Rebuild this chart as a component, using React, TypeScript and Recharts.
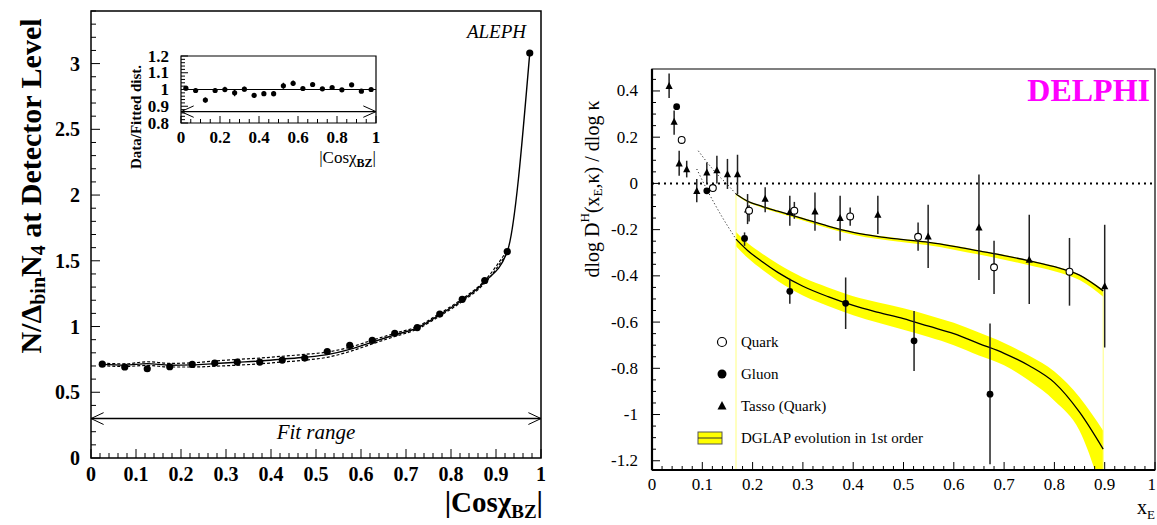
import React from 'react';
import {
  ComposedChart, Scatter, Line, Area, XAxis, YAxis, ErrorBar,
  ReferenceLine, ReferenceArea, Legend,
} from 'recharts';

const FONT = '"Liberation Serif", "DejaVu Serif", serif';

// ---------------- ALEPH (left panel) ----------------
const cosBins = [0.025, 0.075, 0.125, 0.175, 0.225, 0.275, 0.325, 0.375, 0.425, 0.475,
  0.525, 0.575, 0.625, 0.675, 0.725, 0.775, 0.825, 0.875, 0.925, 0.975];
const alephValues = [0.714, 0.692, 0.679, 0.694, 0.712, 0.722, 0.73, 0.73, 0.745, 0.76,
  0.81, 0.856, 0.894, 0.949, 0.992, 1.095, 1.207, 1.35, 1.57, 3.08];
const alephFit = [0.712, 0.706, 0.718, 0.706, 0.708, 0.718, 0.728, 0.738, 0.752, 0.766,
  0.786, 0.826, 0.882, 0.936, 0.99, 1.09, 1.2, 1.34, 1.57, 3.08];
const alephFitUp = [0.722, 0.716, 0.732, 0.72, 0.724, 0.738, 0.75, 0.76, 0.774, 0.788,
  0.806, 0.842, 0.896, 0.948, 1.0, 1.1, 1.21, 1.35, 1.58];
const alephFitDown = [0.702, 0.696, 0.704, 0.692, 0.692, 0.698, 0.706, 0.716, 0.73, 0.744,
  0.766, 0.81, 0.868, 0.924, 0.98, 1.08, 1.19, 1.33, 1.56];
const ratioValues = [1.008, 0.994, 0.937, 0.994, 1.0, 0.98, 1.002, 0.965, 0.975, 0.975,
  1.022, 1.037, 1.006, 1.03, 1.004, 1.012, 0.998, 1.028, 0.99, 1.0];
const ratioErrors = [0.012, 0.012, 0.015, 0.014, 0.016, 0.02, 0.014, 0.012, 0.014, 0.016,
  0.018, 0.016, 0.01, 0.01, 0.008, 0.008, 0.008, 0.008, 0.008, 0.006];
const fitRangeY = 0.3;
const ratioArrowY = 0.868;

const leftXMajor = [0, 0.1, 0.2, 0.3, 0.4, 0.5, 0.6, 0.7, 0.8, 0.9, 1];
const leftXLabels = ['0', '0.1', '0.2', '0.3', '0.4', '0.5', '0.6', '0.7', '0.8', '0.9', '1'];
const leftYMajor = [0, 0.5, 1, 1.5, 2, 2.5, 3];
const leftYLabels = ['0', '0.5', '1', '1.5', '2', '2.5', '3'];
const insetXMajor = [0, 0.2, 0.4, 0.6, 0.8, 1];
const insetXLabels = ['0', '0.2', '0.4', '0.6', '0.8', '1'];
const insetYMajor = [0.8, 0.9, 1, 1.1, 1.2];
const insetYLabels = ['0.8', '0.9', '1', '1.1', '1.2'];

// ---------------- DELPHI (right panel) ----------------
const quarkX = [0.059, 0.121, 0.193, 0.283, 0.394, 0.529, 0.68, 0.83];
const quarkY = [0.188, -0.02, -0.118, -0.118, -0.143, -0.231, -0.363, -0.382];
const quarkLo = [0.188, -0.02, -0.165, -0.153, -0.183, -0.291, -0.479, -0.529];
const quarkHi = [0.188, -0.02, -0.095, -0.08, -0.104, -0.169, -0.248, -0.236];

const gluonX = [0.049, 0.109, 0.184, 0.274, 0.385, 0.521, 0.672];
const gluonY = [0.332, -0.032, -0.238, -0.467, -0.519, -0.681, -0.912];
const gluonLo = [0.332, -0.032, -0.27, -0.521, -0.63, -0.812, -1.215];
const gluonHi = [0.332, -0.032, -0.212, -0.413, -0.407, -0.552, -0.606];

const tassoX = [0.034, 0.044, 0.054, 0.069, 0.089, 0.109, 0.129, 0.15, 0.17, 0.19,
  0.225, 0.274, 0.324, 0.374, 0.449, 0.549, 0.65, 0.75, 0.9];
const tassoY = [0.42, 0.265, 0.084, 0.059, -0.035, 0.045, 0.055, 0.038, 0.038, -0.115,
  -0.068, -0.125, -0.123, -0.151, -0.137, -0.231, -0.193, -0.332, -0.447];
const tassoLo = [0.37, 0.211, 0.033, 0.026, -0.082, -0.003, 0.0, -0.024, -0.046, -0.176,
  -0.125, -0.183, -0.205, -0.248, -0.219, -0.366, -0.418, -0.522, -0.71];
const tassoHi = [0.476, 0.315, 0.141, 0.098, 0.019, 0.09, 0.12, 0.106, 0.124, -0.046,
  -0.017, -0.053, -0.039, -0.053, -0.053, -0.092, 0.038, -0.136, -0.179];

const dglapX = [0.167, 0.19, 0.22, 0.25, 0.3, 0.35, 0.4, 0.45, 0.5, 0.55, 0.6, 0.65,
  0.7, 0.75, 0.8, 0.85, 0.897];
const quarkCurve = [-0.046, -0.077, -0.1, -0.12, -0.152, -0.185, -0.212, -0.23, -0.243,
  -0.255, -0.272, -0.292, -0.312, -0.335, -0.36, -0.397, -0.465];
const quarkBandHi = [-0.044, -0.074, -0.097, -0.117, -0.149, -0.182, -0.209, -0.227, -0.24,
  -0.252, -0.269, -0.289, -0.309, -0.332, -0.357, -0.394, -0.46];
const quarkBandLo = [-0.05, -0.082, -0.106, -0.127, -0.16, -0.194, -0.222, -0.241, -0.255,
  -0.268, -0.287, -0.308, -0.33, -0.354, -0.38, -0.418, -0.49];
const gluonCurve = [-0.241, -0.29, -0.34, -0.385, -0.445, -0.49, -0.528, -0.558, -0.585,
  -0.618, -0.65, -0.693, -0.735, -0.789, -0.862, -0.99, -1.15];
const gluonBandHi = [-0.21, -0.258, -0.305, -0.348, -0.407, -0.45, -0.488, -0.515, -0.54,
  -0.57, -0.603, -0.645, -0.69, -0.746, -0.814, -0.925, -1.07];
const gluonBandLo = [-0.272, -0.322, -0.375, -0.422, -0.485, -0.53, -0.57, -0.603, -0.633,
  -0.665, -0.7, -0.745, -0.787, -0.854, -0.94, -1.07, -1.35];
const quarkDotX = [0.092, 0.11, 0.129, 0.15, 0.167];
const quarkDotY = [0.141, 0.09, 0.041, -0.005, -0.046];
const gluonDotX = [0.089, 0.11, 0.138, 0.167];
const gluonDotY = [0.062, -0.03, -0.14, -0.241];

const rightXMajor = [0, 0.1, 0.2, 0.3, 0.4, 0.5, 0.6, 0.7, 0.8, 0.9, 1];
const rightXLabels = ['0', '0.1', '0.2', '0.3', '0.4', '0.5', '0.6', '0.7', '0.8', '0.9', '1'];
const rightYMajor = [-1.2, -1, -0.8, -0.6, -0.4, -0.2, 0, 0.2, 0.4];
const rightYLabels = ['-1.2', '-1', '-0.8', '-0.6', '-0.4', '-0.2', '0', '0.2', '0.4'];
const legendLabels = ['Quark', 'Gluon', 'Tasso (Quark)', 'DGLAP evolution in 1st order'];

const R_YMIN = -1.24;
const R_YMAX = 0.495;

// ---------------- helpers ----------------
const range = (a: number, b: number, step: number) => {
  const out: number[] = [];
  const n = Math.round((b - a) / step);
  for (let i = 0; i <= n; i++) out.push(Math.round((a + i * step) * 10000) / 10000);
  return out;
};
const idx = (v: number, arr: number[]) => arr.findIndex((a) => Math.abs(a - v) < 1e-6);

const makeXTick = (majors: number[], labels: string[], len: number, minorLen: number,
  fontSize: number, bold: boolean, offset: number, lastAnchorEnd = false) => (props: any) => {
  const { x, y, payload } = props;
  const i = idx(payload.value, majors);
  const major = i >= 0;
  const isLast = lastAnchorEnd && i === majors.length - 1;
  return (
    <g>
      <line x1={x} x2={x} y1={y} y2={y - (major ? len : minorLen)} stroke="#000" strokeWidth={1} />
      {major && (
        <text x={isLast ? x + 1 : x} y={y + offset} textAnchor={isLast ? 'end' : 'middle'} fontFamily={FONT} fontSize={fontSize}
          fontWeight={bold ? 'bold' : 'normal'} fill="#000">{labels[i]}</text>
      )}
    </g>
  );
};
const makeYTick = (majors: number[], labels: string[], len: number, minorLen: number,
  fontSize: number, bold: boolean, offset: number) => (props: any) => {
  const { x, y, payload } = props;
  const i = idx(payload.value, majors);
  const major = i >= 0;
  return (
    <g>
      <line x1={x} x2={x + (major ? len : minorLen)} y1={y} y2={y} stroke="#000" strokeWidth={1} />
      {major && (
        <text x={x - offset} y={y} textAnchor="end" dominantBaseline="central" fontFamily={FONT}
          fontSize={fontSize} fontWeight={bold ? 'bold' : 'normal'} fill="#000">{labels[i]}</text>
      )}
    </g>
  );
};

const dot = (r: number) => (p: any) => <circle cx={p.cx} cy={p.cy} r={r} fill="#000" />;
const openDot = (p: any) => <circle cx={p.cx} cy={p.cy} r={3.4} fill="#fff" stroke="#000" strokeWidth={1.1} />;
const tri = (p: any) => (
  <polygon points={`${p.cx - 3.6},${p.cy + 2.6} ${p.cx + 3.6},${p.cy + 2.6} ${p.cx},${p.cy - 4.4}`} fill="#000" />
);

// ---------------- data tables ----------------
const alephPts = cosBins.map((x, i) => ({ x, y: alephValues[i] }));
const alephFitPts = cosBins.map((x, i) => ({ x, y: alephFit[i] }));
const alephUpPts = alephFitUp.map((y, i) => ({ x: cosBins[i], y }));
const alephDownPts = alephFitDown.map((y, i) => ({ x: cosBins[i], y }));
const ratioPts = cosBins.map((x, i) => ({ x, y: ratioValues[i], err: ratioErrors[i] }));

const quarkPts = quarkX.map((x, i) => ({ x, y: quarkY[i], err: [quarkY[i] - quarkLo[i], quarkHi[i] - quarkY[i]] }));
const gluonPts = gluonX.map((x, i) => ({ x, y: gluonY[i], err: [gluonY[i] - gluonLo[i], gluonHi[i] - gluonY[i]] }));
const tassoPts = tassoX.map((x, i) => ({ x, y: tassoY[i], err: [tassoY[i] - tassoLo[i], tassoHi[i] - tassoY[i]] }));
const quarkCurvePts = dglapX.map((x, i) => ({ x, y: quarkCurve[i], band: [quarkBandLo[i], quarkBandHi[i]] }));
const gluonCurvePts = dglapX.map((x, i) => ({ x, y: gluonCurve[i], band: [gluonBandLo[i], gluonBandHi[i]] }));
const quarkDotPts = quarkDotX.map((x, i) => ({ x, y: quarkDotY[i] }));
const gluonDotPts = gluonDotX.map((x, i) => ({ x, y: gluonDotY[i] }));

const legendMarker = (k: number) => {
  if (k === 0) return <circle cx={32} cy={16} r={4.5} fill="#fff" stroke="#000" strokeWidth={1.2} />;
  if (k === 1) return <circle cx={32} cy={16} r={4.5} fill="#000" />;
  if (k === 2) return <polygon points="27.5,19.5 36.5,19.5 32,11" fill="#000" />;
  return (
    <g>
      <rect x={8} y={10} width={24} height={12} fill="#ffff00" stroke="#555" strokeWidth={1} />
      <line x1={8} x2={32} y1={16} y2={16} stroke="#333" strokeWidth={1} />
    </g>
  );
};

const LegendBox = () => (
  <div style={{ fontFamily: FONT, fontSize: 15, color: '#000' }}>
    {legendLabels.map((t, k) => (
      <div key={t} style={{ display: 'flex', alignItems: 'center', height: 32 }}>
        <svg width={48} height={32} style={{ display: 'block' }}>{legendMarker(k)}</svg>
        <span style={{ marginLeft: 3, whiteSpace: 'nowrap' }}>{t}</span>
      </div>
    ))}
  </div>
);

export default function App() {
  return (
    <div style={{ position: 'absolute', left: 0, top: 0, width: 1157, height: 525, background: '#fff', overflow: 'hidden' }}>
      {/* Left panel: ALEPH */}
      <div style={{ position: 'absolute', left: 0, top: 0 }}>
        <ComposedChart width={560} height={525} margin={{ top: 11, right: 19, left: 31, bottom: 27 }}>
          <XAxis type="number" dataKey="x" domain={[0, 1]} allowDataOverflow ticks={range(0, 1, 0.02)} interval={0}
            tickSize={0} tickMargin={0} height={40} axisLine={false}
            tick={makeXTick(leftXMajor, leftXLabels, 9, 5, 20, true, 23)} />
          <YAxis type="number" domain={[0, 3.4]} allowDataOverflow ticks={range(0, 3.4, 0.1)} interval={0}
            tickSize={0} tickMargin={0} width={60} axisLine={false}
            tick={makeYTick(leftYMajor, leftYLabels, 9, 5, 20, true, 11)} />
          <ReferenceArea x1={0} x2={1} y1={0} y2={3.4} fill="none" stroke="#000" strokeWidth={1.5} fillOpacity={0} />
          <ReferenceLine y={fitRangeY} stroke="#000" strokeWidth={1.4}
            label={{ value: 'Fit range', position: 'bottom', offset: 6, fontFamily: FONT, fontSize: 21, fontStyle: 'italic', fill: '#000' }} />
          <ReferenceLine segment={[{ x: 0, y: fitRangeY }, { x: 0.028, y: fitRangeY + 0.045 }]} stroke="#000" strokeWidth={1} />
          <ReferenceLine segment={[{ x: 0, y: fitRangeY }, { x: 0.028, y: fitRangeY - 0.045 }]} stroke="#000" strokeWidth={1} />
          <ReferenceLine segment={[{ x: 1, y: fitRangeY }, { x: 0.972, y: fitRangeY + 0.045 }]} stroke="#000" strokeWidth={1} />
          <ReferenceLine segment={[{ x: 1, y: fitRangeY }, { x: 0.972, y: fitRangeY - 0.045 }]} stroke="#000" strokeWidth={1} />
          <Line data={alephUpPts} dataKey="y" type="monotone" dot={false} stroke="#000" strokeWidth={1.2}
            strokeDasharray="3 2" isAnimationActive={false} />
          <Line data={alephDownPts} dataKey="y" type="monotone" dot={false} stroke="#000" strokeWidth={1.2}
            strokeDasharray="3 2" isAnimationActive={false} />
          <Line data={alephFitPts} dataKey="y" type="monotone" dot={false} stroke="#000" strokeWidth={1.4}
            isAnimationActive={false} />
          <Scatter data={alephPts} dataKey="y" shape={dot(3.6)} isAnimationActive={false} />
        </ComposedChart>
      </div>

      {/* Inset: ratio */}
      <div style={{ position: 'absolute', left: 120, top: 30 }}>
        <ComposedChart width={270} height={160} margin={{ top: 26, right: 14, left: 21, bottom: 47 }}>
          <XAxis type="number" dataKey="x" domain={[0, 1]} allowDataOverflow ticks={range(0, 1, 0.05)} interval={0}
            tickSize={0} tickMargin={0} height={20} axisLine={false}
            tick={makeXTick(insetXMajor, insetXLabels, 7, 4, 17, true, 20)} />
          <YAxis type="number" domain={[0.8, 1.2]} allowDataOverflow ticks={range(0.8, 1.2, 0.02)} interval={0}
            tickSize={0} tickMargin={0} width={40} axisLine={false}
            tick={makeYTick(insetYMajor, insetYLabels, 7, 4, 17, true, 12)} />
          <ReferenceArea x1={0} x2={1} y1={0.8} y2={1.2} fill="none" stroke="#000" strokeWidth={1.2} fillOpacity={0} />
          <ReferenceLine y={1} stroke="#000" strokeWidth={1.2} />
          <ReferenceLine y={ratioArrowY} stroke="#000" strokeWidth={1.2} />
          <ReferenceLine segment={[{ x: 0, y: ratioArrowY }, { x: 0.065, y: ratioArrowY + 0.034 }]} stroke="#000" strokeWidth={1} />
          <ReferenceLine segment={[{ x: 0, y: ratioArrowY }, { x: 0.065, y: ratioArrowY - 0.034 }]} stroke="#000" strokeWidth={1} />
          <ReferenceLine segment={[{ x: 1, y: ratioArrowY }, { x: 0.935, y: ratioArrowY + 0.034 }]} stroke="#000" strokeWidth={1} />
          <ReferenceLine segment={[{ x: 1, y: ratioArrowY }, { x: 0.935, y: ratioArrowY - 0.034 }]} stroke="#000" strokeWidth={1} />
          <Scatter data={ratioPts} dataKey="y" shape={dot(2.6)} isAnimationActive={false}>
            <ErrorBar dataKey="err" direction="y" width={0} stroke="#000" strokeWidth={1.2} />
          </Scatter>
        </ComposedChart>
      </div>

      {/* Right panel: DELPHI */}
      <div style={{ position: 'absolute', left: 560, top: 0 }}>
        <ComposedChart width={597} height={525} margin={{ top: 69, right: 2, left: 32, bottom: 25 }}>
          <XAxis type="number" dataKey="x" domain={[0, 1]} allowDataOverflow ticks={range(0, 1, 0.02)} interval={0}
            tickSize={0} tickMargin={0} height={30} axisLine={{ stroke: '#000', strokeWidth: 2.2 }}
            tick={makeXTick(rightXMajor, rightXLabels, 8, 4, 17, false, 20, true)} />
          <YAxis type="number" domain={[R_YMIN, R_YMAX]} allowDataOverflow ticks={range(-1.2, 0.45, 0.05)} interval={0}
            tickSize={0} tickMargin={0} width={60} axisLine={{ stroke: '#000', strokeWidth: 2.2 }}
            tick={makeYTick(rightYMajor, rightYLabels, 8, 4, 17, false, 14)} />
          <ReferenceArea x1={0} x2={1} y1={R_YMIN} y2={R_YMAX} fill="none" stroke="#000" strokeWidth={1.2} fillOpacity={0} />
          <Area data={gluonCurvePts} dataKey="band" type="monotone" fill="#ffff00" fillOpacity={1} stroke="none"
            isAnimationActive={false} />
          <Area data={quarkCurvePts} dataKey="band" type="monotone" fill="#ffff00" fillOpacity={1} stroke="none"
            isAnimationActive={false} />
          <ReferenceLine segment={[{ x: dglapX[0], y: R_YMIN }, { x: dglapX[0], y: quarkCurve[0] }]} stroke="#ffff80" strokeWidth={1} />
          <ReferenceLine segment={[{ x: dglapX[dglapX.length - 1], y: R_YMIN }, { x: dglapX[dglapX.length - 1], y: quarkCurve[quarkCurve.length - 1] }]}
            stroke="#ffff80" strokeWidth={1} />
          <ReferenceLine y={0} stroke="#000" strokeWidth={2} strokeDasharray="2 4" />
          <Line data={quarkDotPts} dataKey="y" type="monotone" dot={false} stroke="#000" strokeWidth={1}
            strokeDasharray="1 2.5" isAnimationActive={false} />
          <Line data={gluonDotPts} dataKey="y" type="monotone" dot={false} stroke="#000" strokeWidth={1}
            strokeDasharray="1 2.5" isAnimationActive={false} />
          <Line data={gluonCurvePts} dataKey="y" type="monotone" dot={false} stroke="#000" strokeWidth={1.3}
            isAnimationActive={false} />
          <Line data={quarkCurvePts} dataKey="y" type="monotone" dot={false} stroke="#000" strokeWidth={1.3}
            isAnimationActive={false} />
          <Scatter data={tassoPts} dataKey="y" shape={tri} isAnimationActive={false}>
            <ErrorBar dataKey="err" direction="y" width={0} stroke="#222" strokeWidth={1.5} />
          </Scatter>
          <Scatter data={gluonPts} dataKey="y" shape={dot(3.4)} isAnimationActive={false}>
            <ErrorBar dataKey="err" direction="y" width={0} stroke="#222" strokeWidth={1.5} />
          </Scatter>
          <Scatter data={quarkPts} dataKey="y" shape={openDot} isAnimationActive={false}>
            <ErrorBar dataKey="err" direction="y" width={0} stroke="#222" strokeWidth={1.5} />
          </Scatter>
          <Legend layout="vertical" align="center" verticalAlign="middle"
            wrapperStyle={{ left: 130, top: 326, width: 320 }} content={() => <LegendBox />} />
        </ComposedChart>
      </div>

      {/* Titles */}
      <svg width={1157} height={525} style={{ position: 'absolute', left: 0, top: 0, pointerEvents: 'none' }}>
        <text transform="rotate(-90 30 186)" x={30} y={186} textAnchor="middle" dominantBaseline="central"
          fontFamily={FONT} fontWeight="bold" fontSize={30} fill="#000">
          N/Δ<tspan dy={8} fontSize={20}>bin</tspan><tspan dy={-8}>N</tspan><tspan dy={8} fontSize={20}>4</tspan><tspan dy={-8}> at Detector Level</tspan>
        </text>
        <text x={543} y={512} textAnchor="end" fontFamily={FONT} fontWeight="bold" fontSize={29} fill="#000">
          |Cosχ<tspan dy={6} fontSize={19}>BZ</tspan><tspan dy={-6}>|</tspan>
        </text>
        <text x={526} y={38} textAnchor="end" fontFamily={FONT} fontStyle="italic" fontSize={19} fill="#000">ALEPH</text>
        <text transform="rotate(-90 136 117)" x={136} y={117} textAnchor="middle" dominantBaseline="central"
          fontFamily={FONT} fontWeight="bold" fontSize={15} fill="#000">Data/Fitted dist.</text>
        <text x={376} y={163} textAnchor="end" fontFamily={FONT} fontSize={17} fill="#000">
          |Cosχ<tspan dy={4} fontSize={12} fontWeight="bold">BZ</tspan><tspan dy={-4}>|</tspan>
        </text>
        <text transform="rotate(-90 592 189)" x={592} y={189} textAnchor="middle" dominantBaseline="central"
          fontFamily={FONT} fontSize={20} fill="#000">
          dlog D<tspan dy={-8} fontSize={13}>H</tspan><tspan dy={8}>(x</tspan><tspan dy={5} fontSize={13}>E</tspan><tspan dy={-5}>,κ) / dlog κ</tspan>
        </text>
        <text x={1155} y={514} textAnchor="end" fontFamily={FONT} fontSize={20} fill="#000">
          x<tspan dy={5} fontSize={13}>E</tspan>
        </text>
        <text x={1150} y={101} textAnchor="end" fontFamily={FONT} fontWeight="bold" fontSize={32} fill="#ff00ff">DELPHI</text>
      </svg>
    </div>
  );
}
